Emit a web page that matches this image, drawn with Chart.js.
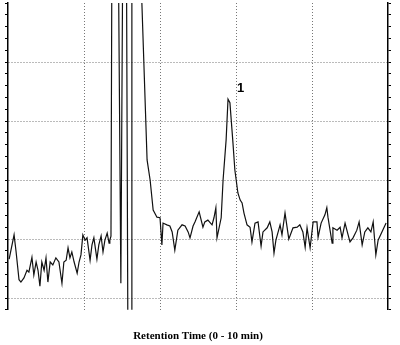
<!DOCTYPE html>
<html>
<head>
<meta charset="utf-8">
<script src="https://cdn.jsdelivr.net/npm/chart.js@4"></script>
<style>
  html, body { margin: 0; padding: 0; background: #fff; }
  #wrap { width: 400px; height: 345px; }
</style>
</head>
<body>
<div id="wrap"><canvas id="chrom"></canvas></div>
<script>
// ========
// Data (retention time in min, detector signal in grid units)
// ========
const times = [
  0.03, 0.16, 0.21, 0.29, 0.34, 0.42, 0.50, 0.55, 0.63, 0.68, 0.74, 0.79, 0.84, 0.89, 0.95,
  1.00, 1.05, 1.11, 1.18, 1.26, 1.34, 1.42, 1.47, 1.53, 1.58, 1.63, 1.68, 1.74, 1.82, 1.87,
  1.92, 1.97, 2.03, 2.08, 2.16, 2.21, 2.26, 2.34, 2.39, 2.45, 2.50, 2.55, 2.61, 2.66, 2.68,
  2.71, 2.74, 2.89, 2.97, 3.03, 3.11, 3.16, 3.24, 3.26, 3.42, 3.66, 3.74, 3.82, 3.92, 4.00,
  4.05, 4.08, 4.18, 4.26, 4.32, 4.39, 4.47, 4.58, 4.66, 4.74, 4.79, 4.87, 4.92, 5.03, 5.13,
  5.18, 5.26, 5.37, 5.42, 5.47, 5.50, 5.61, 5.66, 5.74, 5.79, 5.84, 5.92, 5.97, 6.05, 6.11,
  6.16, 6.21, 6.29, 6.37, 6.42, 6.50, 6.58, 6.66, 6.71, 6.82, 6.89, 6.95, 7.00, 7.05, 7.16,
  7.21, 7.29, 7.39, 7.50, 7.61, 7.68, 7.76, 7.82, 7.87, 7.95, 8.03, 8.13, 8.16, 8.24, 8.34,
  8.39, 8.42, 8.53, 8.55, 8.66, 8.74, 8.79, 8.87, 8.95, 9.00, 9.08, 9.18, 9.24, 9.32, 9.39,
  9.47, 9.55, 9.61, 9.68, 9.74, 9.84, 9.95
];
const signal = [
  0.66, 1.07, 0.80, 0.31, 0.27, 0.34, 0.47, 0.44, 0.69, 0.39, 0.61, 0.47, 0.20, 0.61, 0.47,
  0.68, 0.27, 0.61, 0.56, 0.68, 0.61, 0.25, 0.61, 0.64, 0.85, 0.68, 0.78, 0.61, 0.42, 0.61,
  0.73, 1.07, 0.98, 1.02, 0.64, 0.90, 1.02, 0.66, 0.90, 1.05, 0.78, 0.98, 1.10, 0.93, 0.98,
  1.05, 7.00, 7.00, 0.25, 7.00, 7.00, -1.50, -1.50, 7.00, 7.00, 2.34, 2.00, 1.49, 1.37, 1.36,
  0.90, 1.27, 1.24, 1.22, 1.12, 0.81, 1.15, 1.24, 1.22, 1.12, 1.02, 1.22, 1.29, 1.46, 1.20,
  1.29, 1.32, 1.24, 1.36, 1.53, 1.02, 1.36, 2.00, 2.68, 3.37, 3.31, 2.63, 2.17, 1.78, 1.66,
  1.61, 1.44, 1.24, 1.20, 0.95, 1.27, 1.29, 0.88, 1.12, 1.19, 1.29, 1.12, 0.76, 0.98, 1.24,
  1.07, 1.44, 1.00, 1.19, 1.20, 1.24, 1.12, 0.86, 1.19, 0.85, 1.29, 1.29, 1.03, 1.27, 1.41,
  1.53, 1.37, 0.93, 1.19, 1.15, 1.20, 1.02, 1.27, 1.07, 0.95, 1.02, 1.15, 1.29, 0.90, 1.12,
  1.19, 1.12, 1.29, 0.73, 0.98, 1.12, 1.27
];

// Peak annotation
const peakLabel = "1";
const peakLabelX = 6.12;
const peakLabelY = 3.55;

const xTitle = "Retention Time (0 - 10 min)";

// ============
// Helpers
// ============
const isInt = v => Math.abs(v - Math.round(v)) < 1e-6;
const dotted = "#777";
const clear = "rgba(0,0,0,0)";

// Draws the peak number next to the peak
const peakLabelPlugin = {
  id: "peakLabel",
  afterDatasetsDraw(chart) {
    const { ctx, scales } = chart;
    ctx.save();
    ctx.font = "bold 13px 'Liberation Sans', Arial, sans-serif";
    ctx.fillStyle = "#000";
    ctx.textAlign = "center";
    ctx.textBaseline = "middle";
    ctx.fillText(peakLabel, scales.x.getPixelForValue(peakLabelX), scales.y.getPixelForValue(peakLabelY));
    ctx.restore();
  }
};

const points = times.map((t, i) => ({ x: t, y: signal[i] }));

new Chart(document.getElementById("chrom"), {
  type: "line",
  data: {
    datasets: [{
      data: points,
      borderColor: "#111",
      borderWidth: 1.2,
      pointRadius: 0,
      tension: 0
    }]
  },
  options: {
    responsive: true,
    maintainAspectRatio: false,
    animation: false,
    layout: { padding: { left: 5, right: 9, top: 3, bottom: 0 } },
    plugins: {
      legend: { display: false },
      tooltip: { enabled: false }
    },
    scales: {
      x: {
        type: "linear",
        min: 0, max: 10,
        ticks: { display: false, stepSize: 2 },
        grid: {
          color: c => (c.tick && (c.tick.value === 0 || c.tick.value === 10)) ? clear : dotted,
          lineWidth: 1,
          drawTicks: false
        },
        border: { display: false, dash: [1, 2] },
        title: {
          display: true,
          text: xTitle,
          color: "#000",
          font: { family: "'Liberation Serif', 'Times New Roman', serif", size: 11, weight: "bold" },
          padding: { top: 20, bottom: 2 }
        }
      },
      y: {
        min: -0.2, max: 5,
        ticks: { display: false, stepSize: 0.2 },
        grid: {
          color: c => (c.tick && isInt(c.tick.value) && c.tick.value >= 0 && c.tick.value < 5) ? dotted : clear,
          tickColor: "#000",
          tickLength: 3,
          tickBorderDash: []
        },
        border: { display: true, color: "#000", width: 1.5, dash: [1, 2] }
      },
      y2: {
        position: "right",
        min: -0.2, max: 5,
        ticks: { display: false, stepSize: 0.2 },
        grid: { drawOnChartArea: false, tickColor: "#000", tickLength: 3 },
        border: { display: true, color: "#000", width: 1.5 }
      }
    }
  },
  plugins: [peakLabelPlugin]
});
</script>
</body>
</html>
